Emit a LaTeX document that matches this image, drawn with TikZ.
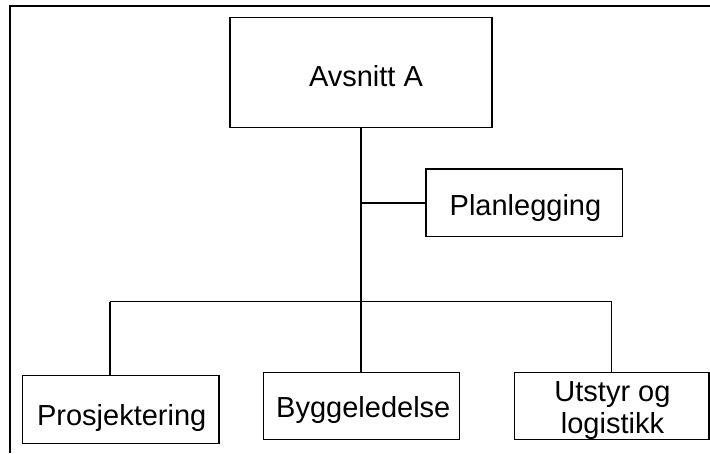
\documentclass[tikz,border=0pt]{standalone}
\usepackage{fontspec}
\setmainfont{Liberation Sans}
\begin{document}
\begin{tikzpicture}[x=1pt,y=-1pt,
  box/.style={draw=black, line width=1.2pt, inner sep=0pt, outer sep=0pt, fill=none},
  lbl/.style={anchor=base, inner sep=0pt, font=\fontsize{29}{31.6}\selectfont},
  conn/.style={draw=black, line width=1.2pt},
  frame/.style={draw=black, line width=2.4pt}]
\useasboundingbox (0,0) rectangle (710,453);
% frame
\coordinate (fTR) at (710,6);
\coordinate (fTL) at (10,6);
\coordinate (fBL) at (10,453);
\draw[frame] (fTR) -- (fTL) -- (fBL);
% boxes
\node[box, minimum width=262pt, minimum height=110pt] (A) at (361,72.6) {};
\node[box, minimum width=196.3pt, minimum height=67.7pt] (Pl) at (524.2,202.9) {};
\node[box, minimum width=196.7pt, minimum height=67.6pt] (P) at (120.7,409.5) {};
\node[box, minimum width=196pt, minimum height=66.6pt] (B) at (361.3,406) {};
\node[box, minimum width=194.7pt, minimum height=66.6pt] (U) at (611.7,406) {};
% texts
\node[lbl] (tA) at (366,86) {Avsnitt A};
\node[lbl] (tPl) at (525.5,215) {Planlegging};
\node[lbl] (tP) at (121.7,425) {Prosjektering};
\node[lbl] (tB) at (363.3,417.7) {Byggeledelse};
\node[lbl, align=center] (tU) at (612.5,433.3) {Utstyr og\\logistikk};
% connectors
\coordinate (bus) at (361,301.7);
\coordinate (busL) at (110,301.7);
\coordinate (busR) at (611.7,301.7);
\draw[conn] (A.south) -- (A.south |- B.north);
\draw[conn] (Pl.west) -- (Pl.west -| A.south);
\draw[conn] (busL) -- (busR);
\draw[conn] (busL) -- (busL |- P.north);
\draw[conn] (busR) -- (U.north);
\end{tikzpicture}
\end{document}
